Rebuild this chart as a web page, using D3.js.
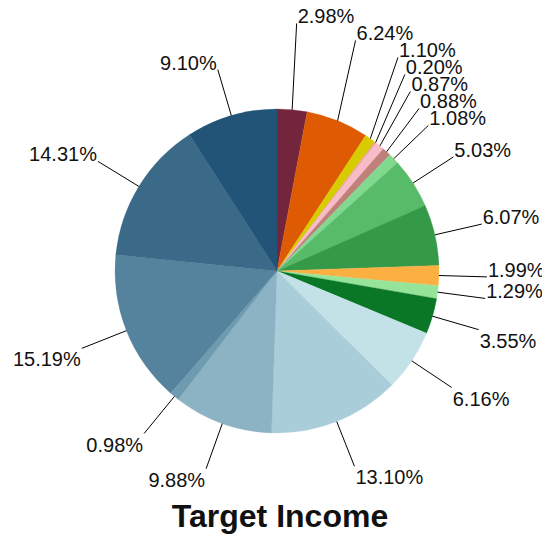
<!DOCTYPE html>
<html lang="en">
  <head>
    <meta charset="UTF-8" />
    <title>Target Income</title>
    <script src="https://d3js.org/d3.v7.min.js"></script>
    <style>
      body {
        margin: 0;
        padding: 0;
        background-color: #fff;
      }
      text {
        font-family: "Liberation Sans", Arial, sans-serif;
      }
    </style>
  </head>
  <body>
    <div id="chart"></div>

    <script>
      const title = "Target Income";

      // share of each slice, clockwise from 12 o'clock
      const shares = [2.98, 6.24, 1.1, 0.2, 0.87, 0.88, 1.08, 5.03, 6.07, 1.99, 1.29, 3.55, 6.16, 13.1, 9.88, 0.98, 15.19, 14.31, 9.1];

      const sliceColors = [
        "#73263b", "#de5b04", "#d6cc00", "#e9a3a0", "#f7bcc8", "#bf807a", "#80d98e",
        "#57bb6a", "#349a48", "#fdb042", "#96e39a", "#097726", "#c3e2e8",
        "#a9cdd9", "#8cb3c4", "#6f9bb1", "#55839d", "#3b6a89", "#215477",
      ];

      const width = 542;
      const height = 536;
      const cx = 277;
      const cy = 271;
      const radius = 162;
      const labelRadius = 210;
      const lineGap = 17;

      const svg = d3.select("#chart").append("svg").attr("width", width).attr("height", height);

      const pie = d3.pie().sort(null).value((d) => d);
      const arc = d3.arc().innerRadius(0).outerRadius(radius);
      const color = d3.scaleOrdinal().domain(d3.range(shares.length)).range(sliceColors);

      const arcs = pie(shares);

      const g = svg.append("g").attr("transform", `translate(${cx},${cy})`);

      g.selectAll("path.slice")
        .data(arcs)
        .enter()
        .append("path")
        .attr("class", "slice")
        .attr("d", arc)
        .attr("fill", (d) => color(d.index))
        .attr("stroke", (d) => color(d.index))
        .attr("stroke-width", 0.3);

      // label anchor points at the natural angle
      const labels = arcs.map((d) => {
        const mid = (d.startAngle + d.endAngle) / 2;
        return {
          d: d,
          mid: mid,
          x0: Math.sin(mid) * radius,
          y0: -Math.cos(mid) * radius,
          x: Math.sin(mid) * labelRadius,
          y: -Math.cos(mid) * labelRadius,
        };
      });

      // crowded labels in the upper right get pushed upward
      const upperRight = labels.filter((l) => l.mid < Math.PI / 2).sort((a, b) => b.mid - a.mid);
      let prevY = Infinity;
      upperRight.forEach((l) => {
        l.y = Math.min(l.y, prevY - lineGap);
        prevY = l.y;
      });

      g.selectAll("line.leader")
        .data(labels)
        .enter()
        .append("line")
        .attr("class", "leader")
        .attr("x1", (l) => l.x0)
        .attr("y1", (l) => l.y0)
        .attr("x2", (l) => l.x)
        .attr("y2", (l) => l.y)
        .attr("stroke", "#000")
        .attr("stroke-width", 1);

      const lowerLimit = (100 * Math.PI) / 180;
      const upperLimit = (260 * Math.PI) / 180;

      g.selectAll("text.pct")
        .data(labels)
        .enter()
        .append("text")
        .attr("class", "pct")
        .attr("x", (l) => (l.mid < Math.PI ? l.x + 1 : l.x - 1))
        .attr("y", (l) => l.y)
        .attr("dy", (l) => (l.mid > lowerLimit && l.mid < upperLimit ? "0.9em" : "0"))
        .attr("text-anchor", (l) => (l.mid < Math.PI ? "start" : "end"))
        .attr("font-size", "20px")
        .attr("fill", "#111")
        .text((l) => d3.format(".2f")(l.d.data) + "%");

      svg.append("text")
        .attr("x", 280)
        .attr("y", 527)
        .attr("text-anchor", "middle")
        .attr("font-size", "32px")
        .attr("font-weight", "bold")
        .attr("fill", "#111")
        .text(title);
    </script>
  </body>
</html>
